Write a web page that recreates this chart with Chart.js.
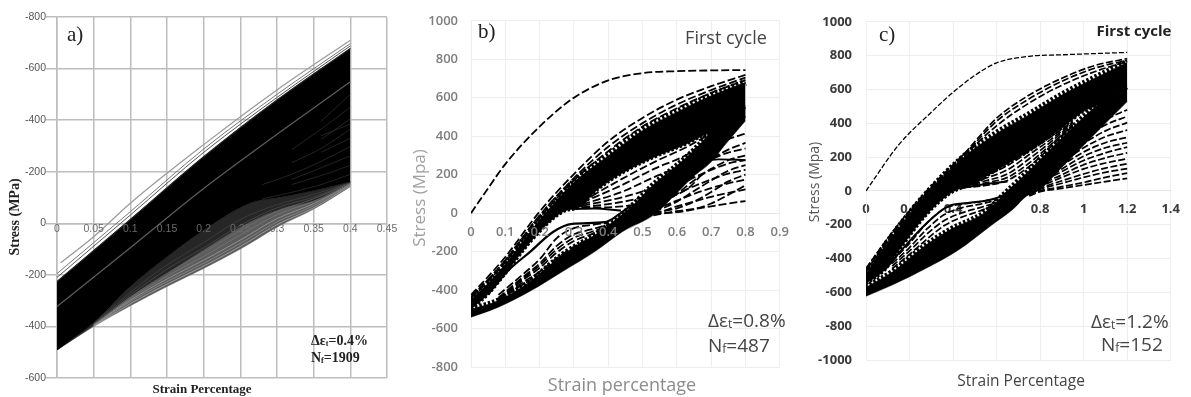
<!DOCTYPE html>
<html><head><meta charset="utf-8">
<script src="https://cdn.jsdelivr.net/npm/chart.js@4/dist/chart.umd.min.js"></script>
<style>
html,body{margin:0;padding:0;background:#fff;width:1191px;height:397px;overflow:hidden}
canvas{position:absolute;top:0;filter:blur(0.45px)}
#ca{left:0}#cb{left:411px}#cc{left:805px}
</style></head><body>
<canvas id="ca" width="412" height="397"></canvas>
<canvas id="cb" width="389" height="397"></canvas>
<canvas id="cc" width="386" height="397"></canvas>
<script>
/* ---------- panel a ---------- */
const xTicksA=[0,0.05,0.1,0.15,0.2,0.25,0.3,0.35,0.4,0.45];
const yTickLabelsA=['-600','-400','-200','0','-200','-400','-600','-800'];
const gridA=[0,0.1,0.2,0.3,0.4];
const outerTopXA=[0.005,0.05,0.1,0.2,0.3,0.4];
const outerTopA=[-153,-52,78,305,517,710];
const nearTop1A=[-195,45,288,500,697];
const nearTop2A=[-210,32,275,488,688];
const blackTopA=[-226,15,258,478,678];
const streakA=[-323,-95,135,345,549];
const edgeXA=[0,0.05,0.1,0.15,0.2,0.263,0.308,0.354,0.4];
const blackLowA=[-491,-385,-245,-130,-26,78,103,129,161];
const midLowA=[-491,-395,-285,-195,-103,5,58,90,149];
const outerLowXA=[0,0.05,0.1,0.15,0.2,0.25,0.3,0.35,0.4];
const outerLowA=[-491,-400,-320,-245,-175,-100,-15,55,142];
const hatchXA=[0.05,0.1,0.15,0.2,0.25,0.3,0.35,0.4];
const hatch1A=[-398,-312,-236,-166,-90,-5,60,146];
const hatch2A=[-396,-304,-226,-155,-78,6,68,150];
const hatch3A=[-394,-298,-216,-143,-65,18,76,152];
const hatch4A=[-393,-292,-205,-128,-45,33,85,154];
const hatch5A=[-392,-286,-194,-113,-28,46,95,156];
const hatch6A=[-390,-278,-178,-95,-8,60,102,157];
const hatch7A=[-388,-268,-162,-75,15,72,112,158];
const fanXA=[0.24,0.28,0.32,0.36,0.4];
const fan1A=[null,95,120,150,190];
const fan2A=[null,null,150,185,225];
const fan3A=[null,null,170,215,262];
const fan4A=[null,150,190,240,298];
const fan5A=[null,null,null,275,330];
const fan6A=[null,null,235,290,365];
const fan7A=[null,null,null,325,405];
const fan8A=[null,null,285,365,450];
const fan9A=[null,null,null,395,500];
const fan10A=[null,null,null,340,385];

/* ---------- panel b ---------- */
const xTicksB=[0,0.1,0.2,0.3,0.4,0.5,0.6,0.7,0.8,0.9];
const gridB=[0,0.05,0.1,0.2,0.3,0.4,0.5,0.6,0.7,0.8];
const firstB=[0,130,255,450,600,690,728,738,742,744];
const top1B=[-425,-330,-228,8,203,373,495,590,660,719];
const top2B=[-435,-345,-245,-12,182,345,468,565,640,705];
const top3B=[-442,-355,-255,-25,170,322,450,545,625,692];
const blackTopB=[-450,-365,-265,-35,160,298,430,525,610,680];
const upBottomXB=[0,0.05,0.1,0.173,0.239,0.276,0.314,0.365,0.44,0.537,0.63,0.677,0.8];
const upBottomB=[-500,-422,-315,-150,-30,13,28,116,207,293,361,404,500];
const loTopXB=[0,0.078,0.173,0.267,0.361,0.41,0.47,0.537,0.584,0.63,0.66,0.74,0.8];
const loTopB=[-500,-456,-354,-216,-114,-50,38,157,224,293,345,500,560];
const loBottomXB=[0,0.078,0.173,0.267,0.361,0.44,0.536,0.6,0.649,0.696,0.743,0.8];
const loBottomB=[-541,-490,-405,-303,-200,-98,-5,105,192,259,361,480];
const cuspXB=[0.3,0.36,0.437];
const cuspB=[22,24,13];
const lensLoXB=[0.05,0.106,0.173,0.239,0.295,0.39,0.427,0.465];
const lensLoB=[-422,-303,-200,-98,-56,-47,-12,38];
const hatchUpXB=[0.324,0.44,0.537,0.63,0.68];
const hatchUp0B=[60,178,268,345,395];
const hatchUp1B=[55,146,233,305,370];
const hatchUp2B=[45,111,190,260,320];
const hatchUp3B=[38,82,135,205,285];
const hatchUp4B=[30,58,100,165,250];
const hatchUp5B=[28,35,65,125,215];
const hatchLoXB=[0.08,0.15,0.2,0.25,0.3,0.35,0.4];
const hatchLo1B=[-425,-320,-240,-130,-78,-62,-50];
const hatchLo2B=[-440,-335,-262,-170,-110,-85,-60];
const hatchLo5B=[-445,-342,-272,-188,-128,-98,-68];
const hatchLo3B=[-448,-350,-285,-205,-145,-110,-75];
const hatchLo4B=[-452,-362,-305,-235,-175,-130,-90];
const hatchLo6B=[-455,-372,-318,-250,-195,-150,-100];
const fanXB=[0.5,0.55,0.6,0.65,0.7,0.75,0.8];
const fan1B=[-22,-5,10,22,35,50,63];
const fan2B=[-10,5,35,60,85,105,123];
const fan3B=[0,30,65,100,130,155,174];
const fan4B=[5,50,100,140,175,205,225];
const fan5B=[10,75,135,185,225,258,276];
const fan6B=[15,95,170,235,280,315,336];
const fan7B=[20,110,205,285,340,385,413];
const fan8B=[-5,0,5,20,50,95,145];
const fan9B=[0,8,25,60,110,165,200];
const fan10B=[5,20,60,115,170,220,250];
const fan11B=[10,40,100,170,230,275,300];
const fan12B=[12,60,130,210,280,330,365];
const fan13XB=[0.66,0.72,0.8];
const fan13B=[262,280,276];

/* ---------- panel c ---------- */
const xTicksC=[0,0.2,0.4,0.6,0.8,1,1.2,1.4];
const firstXC=[0,0.15,0.3,0.4,0.5,0.6,0.75,0.9,1.05,1.2];
const firstC=[0,272,465,583,683,757,796,805,812,819];
const topXC=[0,0.12,0.27,0.45,0.6,0.75,0.9,1.05,1.2];
const top1C=[-459,-246,-13,219,430,567,666,741,782];
const top2C=[-470,-258,-22,210,412,545,648,725,772];
const top3C=[-478,-264,-27,205,385,520,625,705,765];
const blackTopC=[-488,-270,-31,201,340,451,567,666,760];
const upBottomXC=[0,0.087,0.146,0.274,0.378,0.437,0.498,0.55,0.617,0.751,0.903,1.0,1.066,1.2];
const upBottomC=[-550,-467,-362,-147,-23,16,40,85,135,238,375,470,509,620];
const loTopXC=[0,0.123,0.274,0.392,0.543,0.633,0.751,0.903,1.066,1.2];
const loTopC=[-570,-478,-322,-226,-130,-23,122,317,509,620];
const loBottomXC=[0,0.123,0.274,0.423,0.572,0.678,0.737,0.797,0.903,1.05,1.2];
const loBottomC=[-623,-555,-459,-351,-207,-105,-31,6,143,335,528];
const cuspXC=[0.44,0.5,0.58,0.65];
const cuspC=[16,30,45,56];
const lensLoXC=[0.087,0.168,0.274,0.378,0.468,0.572,0.633,0.678];
const lensLoC=[-467,-343,-197,-90,-71,-52,-23,27];
const hatchUpXC=[0.45,0.55,0.65,0.75,0.85,0.95];
const hatchUp0C=[40,90,150,235,320,410];
const hatchUp1C=[34,75,125,215,305,405];
const hatchUp2C=[28,60,100,190,290,400];
const hatchUp3C=[24,48,80,165,275,390];
const hatchUp4C=[20,32,62,145,262,385];
const hatchLoXC=[0.12,0.2,0.28,0.36,0.44,0.52,0.6];
const hatchLo1C=[-415,-310,-190,-105,-78,-65,-45];
const hatchLo2C=[-430,-335,-225,-140,-100,-80,-55];
const hatchLo3C=[-445,-355,-255,-175,-130,-100,-70];
const hatchLo4C=[-460,-375,-285,-205,-155,-120,-80];
const fanXC=[0.75,0.8,0.9,1.0,1.1,1.2];
const fan1C=[-30,-5,15,35,55,74];
const fan2C=[-20,10,45,80,110,132];
const fan3C=[-10,25,80,130,165,190];
const fan4C=[0,45,115,180,225,259];
const fan5C=[5,60,150,230,285,317];
const fan6C=[10,75,180,280,355,404];
const fan7C=[15,85,210,330,420,480];
const fan8C=[-25,0,25,50,80,105];
const fan9C=[-15,15,60,100,135,160];
const fan10C=[-5,35,95,155,195,225];
const fan11C=[5,50,130,205,255,285];
const fan12C=[8,65,165,255,320,360];
const fan13C=[12,80,195,305,390,440];

/* ---------- helpers ---------- */
const pts=(xs,ys)=>xs.map((x,i)=>({x,y:ys[i]}));
const curve=(xs,ys,color,width,dash,extra)=>Object.assign({data:pts(xs,ys),borderColor:color,borderWidth:width,
  borderDash:dash||[],pointRadius:0,fill:false,cubicInterpolationMode:'monotone'},extra||{});
const band=(xa,ya,xb,yb,color)=>[
  curve(xa,ya,color,0.5,null,{fill:'+1',backgroundColor:color}),
  curve(xb,yb,color,0.5)];
const ordered=list=>list.map((d,i)=>Object.assign(d,{order:list.length-i}));

function notes(left,items){return {id:'notes',afterDraw(chart){
  const c=chart.ctx;
  for(const n of items){
    c.save();c.translate(n.x-left,n.y);if(n.rot)c.rotate(n.rot);
    c.fillStyle=n.color;c.textBaseline='middle';
    if(n.parts){let px=0;n.parts.forEach((p,i)=>{
        c.font=i%2?n.small:n.font;c.fillText(p,px,i%2?3:0);px+=c.measureText(p).width;});}
    else{c.font=n.font;c.textAlign=n.align||'left';c.fillText(n.text,0,0);}
    c.restore();}
}};}

function build(id,cfg){
  return new Chart(document.getElementById(id),{type:'line',data:{datasets:ordered(cfg.datasets)},
   plugins:[notes(cfg.left,cfg.notes)],
   options:{responsive:false,animation:false,events:[],
    layout:{padding:cfg.padding},
    plugins:{legend:{display:false},tooltip:{enabled:false},title:{display:false}},
    scales:{
     x:{type:'linear',position:{y:0},min:cfg.xMin,max:cfg.xMax,
        afterBuildTicks:s=>{s.ticks=cfg.xTicks.map(v=>({value:v}));},
        grid:{color:cfg.grid,lineWidth:cfg.gridW,drawTicks:false},border:{color:cfg.zero,width:cfg.gridW,display:true},
        ticks:{autoSkip:false,maxRotation:0,padding:cfg.xPad,color:cfg.tickX,font:cfg.tickFont,z:cfg.tickZ,
               callback:v=>String(v)}},
     y:{type:'linear',position:'left',min:cfg.yMin,max:cfg.yMax,
        afterFit:s=>{s.width=cfg.yW;},
        grid:{color:cfg.grid,lineWidth:cfg.gridW,drawTicks:cfg.yTickLen>0,tickLength:cfg.yTickLen,tickColor:cfg.grid},
        border:{color:cfg.grid,width:cfg.gridW},
        ticks:{stepSize:200,padding:cfg.yPad,color:cfg.tickY,font:cfg.tickFont,
               callback:cfg.yLabel||(v=>String(v))}}
    }}});
}

/* ---------- chart a ---------- */
const serifB='bold 14px "Liberation Serif"';
const fanA=ys=>curve(fanXA,ys,'#3a3a3a',0.6,null,{spanGaps:false});
build('ca',{left:0,padding:{top:17,right:25,bottom:19,left:0},yW:57,xMin:0,xMax:0.45,yMin:-600,yMax:800,
 xTicks:xTicksA,grid:'#bdbdbd',zero:'#bdbdbd',gridW:1.5,xPad:0,yPad:0,yTickLen:11,
 tickX:'#6a6a6a',tickY:'#555',tickFont:{family:'"Liberation Sans"',size:10.5},tickZ:1,
 yLabel:v=>yTickLabelsA[(v+600)/200],
 datasets:[].concat(
  band(edgeXA,midLowA,outerLowXA,outerLowA,'#5c5c5c'),
  band(edgeXA,blackLowA,edgeXA,midLowA,'#262626'),
  [curve(hatchXA,hatch1A,'#c4c4c4',0.6),curve(hatchXA,hatch2A,'#9a9a9a',0.6),curve(hatchXA,hatch3A,'#b4b4b4',0.6),
   curve(hatchXA,hatch4A,'#808080',0.6),curve(hatchXA,hatch5A,'#707070',0.6),curve(hatchXA,hatch6A,'#555',0.6),
   curve(hatchXA,hatch7A,'#4a4a4a',0.6)],
  band(gridA,blackTopA,edgeXA,blackLowA,'#000'),
  [fanA(fan1A),fanA(fan2A),fanA(fan3A),fanA(fan4A),fanA(fan5A),fanA(fan6A),fanA(fan7A),fanA(fan8A),fanA(fan9A),fanA(fan10A),
   curve(gridA,streakA,'#5e5e5e',1.2),
   curve(gridA,blackTopA,'#222',1.2),
   curve(gridA,nearTop2A,'#555',1),curve(gridA,nearTop1A,'#777',1),
   curve(outerTopXA,outerTopA,'#999',1.2)]
 ),
 notes:[
  {text:'a)',x:67,y:35,font:'21px "Liberation Serif"',color:'#222'},
  {text:'Stress (MPa)',x:15,y:217,rot:-Math.PI/2,align:'center',font:serifB,color:'#222'},
  {text:'Strain Percentage',x:202,y:390,align:'center',font:'bold 13px "Liberation Serif"',color:'#222'},
  {parts:['Δε','t','=0.4%'],x:311,y:341,font:serifB,small:'bold 8px "Liberation Serif"',color:'#222'},
  {parts:['N','f','=1909'],x:311,y:358,font:serifB,small:'bold 8px "Liberation Serif"',color:'#222'}
 ]});

/* ---------- chart b ---------- */
const dashB=[8,3];
const lineB=(xs,ys)=>curve(xs,ys,'#000',1.8,dashB);
const fanB=ys=>lineB(fanXB,ys);
const openGray='"Open Sans"';
build('cb',{left:411,padding:{top:15,right:12,bottom:30,left:0},yW:60,xMin:0,xMax:0.9,yMin:-800,yMax:1000,
 xTicks:xTicksB,grid:'#eeeeee',zero:'#e6e6e6',gridW:1,xPad:11,yPad:13,yTickLen:0,
 tickX:'#7d7d7d',tickY:'#7d7d7d',tickFont:{family:openGray,size:13,weight:'600'},tickZ:1,
 datasets:[].concat(
  band(gridB,blackTopB,upBottomXB,upBottomB,'#000'),
  band(loTopXB,loTopB,loBottomXB,loBottomB,'#000'),
  [curve(gridB,blackTopB,'#000',7,[2.5,2]),
   curve(loTopXB,loTopB,'#000',6,[2.5,2]),
   curve(upBottomXB,upBottomB,'#000',3,[2.5,2]),
   curve(cuspXB,cuspB,'#000',2.2),
   curve(lensLoXB,lensLoB,'#000',2.2),
   lineB(hatchLoXB,hatchLo1B),lineB(hatchLoXB,hatchLo2B),lineB(hatchLoXB,hatchLo5B),
   lineB(hatchLoXB,hatchLo3B),lineB(hatchLoXB,hatchLo4B),lineB(hatchLoXB,hatchLo6B),
   lineB(hatchUpXB,hatchUp0B),lineB(hatchUpXB,hatchUp1B),lineB(hatchUpXB,hatchUp2B),
   lineB(hatchUpXB,hatchUp3B),lineB(hatchUpXB,hatchUp4B),lineB(hatchUpXB,hatchUp5B),
   fanB(fan1B),fanB(fan2B),fanB(fan3B),fanB(fan4B),fanB(fan5B),fanB(fan6B),fanB(fan7B),
   fanB(fan8B),fanB(fan9B),fanB(fan10B),fanB(fan11B),fanB(fan12B),
   curve(fan13XB,fan13B,'#000',1.8),
   lineB(gridB,top3B),lineB(gridB,top2B),lineB(gridB,top1B),
   lineB(gridB,firstB)]
 ),
 notes:[
  {text:'b)',x:478,y:32,font:'21px "Liberation Serif"',color:'#222'},
  {text:'First cycle',x:726,y:39,align:'center',font:'18px '+openGray,color:'#444'},
  {text:'Stress (Mpa)',x:420,y:198,rot:-Math.PI/2,align:'center',font:'17px '+openGray,color:'#a0a0a0'},
  {text:'Strain percentage',x:622,y:386,align:'center',font:'18px '+openGray,color:'#8c8c8c'},
  {parts:['Δε','t','=0.8%'],x:708,y:322,font:'19px '+openGray,small:'12px '+openGray,color:'#444'},
  {parts:['N','f','=487'],x:708,y:347,font:'19px '+openGray,small:'12px '+openGray,color:'#444'}
 ]});

/* ---------- chart c ---------- */
const dashC=[7,2.5];
const lineC=(xs,ys)=>curve(xs,ys,'#000',1.7,dashC);
const fanC=ys=>lineC(fanXC,ys);
build('cc',{left:805,padding:{top:16,right:13,bottom:37,left:0},yW:61,xMin:0,xMax:1.4,yMin:-1000,yMax:1000,
 xTicks:xTicksC,grid:'#eeeeee',zero:'#e6e6e6',gridW:1,xPad:11,yPad:14,yTickLen:0,
 tickX:'#3a3a3a',tickY:'#3a3a3a',tickFont:{family:openGray,size:13,weight:'700'},tickZ:0,
 datasets:[].concat(
  band(topXC,blackTopC,upBottomXC,upBottomC,'#000'),
  band(loTopXC,loTopC,loBottomXC,loBottomC,'#000'),
  [curve(topXC,blackTopC,'#000',7,[2.5,2]),
   curve(loTopXC,loTopC,'#000',6,[2.5,2]),
   curve(upBottomXC,upBottomC,'#000',3,[2.5,2]),
   curve(cuspXC,cuspC,'#000',2),
   curve(lensLoXC,lensLoC,'#000',2),
   lineC(hatchLoXC,hatchLo1C),lineC(hatchLoXC,hatchLo2C),lineC(hatchLoXC,hatchLo3C),lineC(hatchLoXC,hatchLo4C),
   lineC(hatchUpXC,hatchUp0C),lineC(hatchUpXC,hatchUp1C),lineC(hatchUpXC,hatchUp2C),
   lineC(hatchUpXC,hatchUp3C),lineC(hatchUpXC,hatchUp4C),
   fanC(fan1C),fanC(fan2C),fanC(fan3C),fanC(fan4C),fanC(fan5C),fanC(fan6C),fanC(fan7C),
   fanC(fan8C),fanC(fan9C),fanC(fan10C),fanC(fan11C),fanC(fan12C),fanC(fan13C),
   lineC(topXC,top3C),lineC(topXC,top2C),lineC(topXC,top1C),
   curve(firstXC,firstC,'#000',1.3,[5,2])]
 ),
 notes:[
  {text:'c)',x:879,y:35,font:'21px "Liberation Serif"',color:'#222'},
  {text:'First cycle',x:1134,y:32,align:'center',font:'bold 15px '+openGray,color:'#222'},
  {text:'Stress (Mpa)',x:815,y:182,rot:-Math.PI/2,align:'center',font:'14px '+openGray,color:'#555'},
  {text:'Strain Percentage',x:1021,y:382,align:'center',font:'15.5px '+openGray,color:'#444'},
  {parts:['Δε','t','=1.2%'],x:1091,y:323,font:'19px '+openGray,small:'12px '+openGray,color:'#444'},
  {parts:['N','f','=152'],x:1101,y:346,font:'19px '+openGray,small:'12px '+openGray,color:'#444'}
 ]});
</script>
</body></html>
